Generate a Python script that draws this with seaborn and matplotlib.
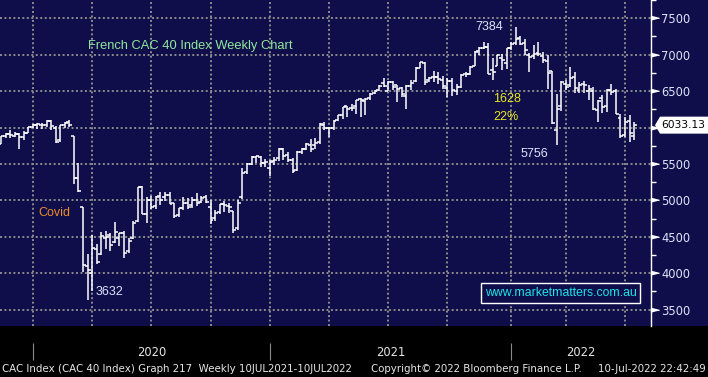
import numpy as np
import pandas as pd
import matplotlib
matplotlib.use("Agg")
import matplotlib.pyplot as plt
import matplotlib.transforms as mtransforms
from matplotlib.patches import Polygon, Rectangle
from matplotlib.ticker import MultipleLocator, FixedLocator, NullFormatter, FuncFormatter
from matplotlib import font_manager
import seaborn as sns

# weekly bars, week ending Friday
week_end = pd.date_range("2019-11-08", "2022-07-08", freq="W-FRI")

opens = [5780, 5885, 5905, 5890, 5905, 5870, 5930, 6010, 6040, 6030,
         6040, 6095, 5990, 5830, 6035, 6070, 5880, 5310, 4910, 4100,
         4000, 4330, 4260, 4480, 4520, 4430, 4480, 4550, 4300, 4480,
         4720, 5190, 4810, 5010, 4920, 5060, 5040, 5080, 4960, 4800,
         4900, 4960, 4940, 5000, 4980, 5050, 4910, 4760, 4840, 4950,
         4930, 4850, 4620, 5050, 5390, 5500, 5590, 5600, 5520, 5440,
         5540, 5580, 5700, 5620, 5560, 5420, 5670, 5710, 5760, 5760,
         5800, 6040, 6000, 5990, 6110, 6170, 6290, 6270, 6290, 6390,
         6370, 6400, 6480, 6510, 6610, 6500, 6620, 6580, 6540, 6430,
         6570, 6640, 6820, 6890, 6650, 6690, 6700, 6650, 6540, 6640,
         6500, 6560, 6730, 6730, 6850, 7050, 7090, 7110, 6790, 6850,
         6960, 6880, 7090, 7160, 7230, 7160, 7000, 6980, 7030, 6980,
         6920, 6770, 5960, 6300, 6600, 6580, 6690, 6520, 6600, 6500,
         6500, 6240, 6400, 6300, 6520, 6500, 6130, 5900, 6090, 5880]
highs = [5890, 5925, 5965, 5935, 5930, 5955, 6010, 6045, 6060, 6060,
         6100, 6105, 6025, 6040, 6075, 6110, 5890, 5515, 4915, 4260,
         4525, 4400, 4560, 4577, 4555, 4700, 4555, 4580, 4490, 4715,
         5190, 5200, 5040, 5060, 5060, 5120, 5110, 5110, 4965, 4900,
         5050, 5030, 5050, 5100, 5060, 5080, 5010, 4870, 4950, 4990,
         4960, 4860, 5000, 5445, 5515, 5605, 5610, 5605, 5570, 5550,
         5600, 5720, 5720, 5660, 5580, 5675, 5720, 5790, 5840, 5860,
         6060, 6075, 6010, 6100, 6170, 6285, 6300, 6330, 6385, 6400,
         6400, 6470, 6520, 6585, 6680, 6640, 6640, 6590, 6560, 6580,
         6655, 6835, 6905, 6895, 6700, 6770, 6760, 6710, 6680, 6680,
         6600, 6740, 6760, 6840, 7050, 7100, 7180, 7160, 6950, 7000,
         7010, 7090, 7180, 7384, 7260, 7210, 7030, 7130, 7180, 7040,
         6990, 6780, 6460, 6640, 6650, 6830, 6760, 6630, 6640, 6590,
         6560, 6380, 6450, 6530, 6595, 6530, 6180, 6140, 6170, 6080]
lows = [5775, 5855, 5860, 5870, 5700, 5830, 5925, 6000, 5980, 5985,
        6010, 5960, 5790, 5795, 6000, 6010, 5225, 5120, 4020, 3632,
        3755, 4130, 4250, 4330, 4300, 4420, 4380, 4210, 4280, 4470,
        4710, 4810, 4690, 4880, 4880, 4940, 4990, 4950, 4760, 4770,
        4870, 4880, 4900, 4920, 4960, 4970, 4670, 4720, 4820, 4840,
        4830, 4550, 4600, 5015, 5360, 5490, 5510, 5465, 5460, 5330,
        5490, 5535, 5560, 5530, 5370, 5410, 5640, 5690, 5660, 5700,
        5780, 5960, 5870, 5960, 6090, 6120, 6150, 6230, 6190, 6150,
        6170, 6375, 6460, 6500, 6560, 6500, 6510, 6350, 6420, 6260,
        6515, 6630, 6815, 6590, 6620, 6630, 6600, 6530, 6425, 6435,
        6445, 6540, 6690, 6720, 6840, 7000, 7080, 6730, 6650, 6850,
        6790, 6800, 7060, 7140, 7130, 7000, 6760, 6940, 6980, 6880,
        6530, 6050, 5756, 6230, 6520, 6560, 6480, 6470, 6480, 6380,
        6240, 6080, 6200, 6210, 6450, 6180, 5850, 5870, 5800, 5830]
closes = [5885, 5905, 5894, 5905, 5872, 5919, 6005, 6037, 6044, 6037,
          6095, 6024, 5806, 6030, 6069, 6029, 5310, 5130, 4118, 4049,
          4351, 4154, 4507, 4499, 4393, 4572, 4550, 4278, 4445, 4695,
          5180, 4816, 5001, 4910, 5049, 5007, 5069, 4956, 4784, 4889,
          4962, 4911, 5002, 4965, 5034, 4979, 4730, 4824, 4946, 4935,
          4910, 4594, 4960, 5380, 5495, 5598, 5609, 5507, 5528, 5522,
          5551, 5707, 5611, 5559, 5399, 5659, 5704, 5774, 5703, 5783,
          6046, 5997, 5989, 6095, 6169, 6280, 6258, 6269, 6385, 6385,
          6386, 6460, 6505, 6575, 6569, 6622, 6553, 6530, 6460, 6569,
          6613, 6817, 6896, 6627, 6682, 6690, 6664, 6570, 6638, 6518,
          6560, 6728, 6734, 6830, 7041, 7091, 7112, 6740, 6765, 6991,
          6927, 7086, 7153, 7220, 7143, 7069, 6966, 7012, 7011, 6930,
          6752, 6062, 6260, 6620, 6553, 6684, 6548, 6590, 6581, 6534,
          6258, 6362, 6285, 6516, 6486, 6187, 5882, 6073, 5931, 6033.13]

y_levels = [3500, 4000, 4500, 5000, 5500, 6000, 6500, 7000, 7500]
title = "French CAC 40 Index Weekly Chart"
footer_left = "CAC Index (CAC 40 Index) Graph 217  Weekly 10JUL2021-10JUL2022"
footer_mid = "Copyright\u00a9 2022 Bloomberg Finance L.P."
footer_right = "10-Jul-2022 22:42:49"

navy = "#0f0e4a"
grid_col = "#8c8c8c"
label_col = "#dce4fa"

sns.set_theme(style="dark", rc={"axes.facecolor": navy, "figure.facecolor": navy})
plt.rcParams["font.family"] = ["Liberation Sans", "DejaVu Sans"]

names = {f.name for f in font_manager.fontManager.ttflist}
if "Liberation Sans Narrow" in names:
    foot_font, foot_size = "Liberation Sans Narrow", 8.2
else:
    foot_font, foot_size = "DejaVu Sans", 7.4

x = np.arange(len(week_end))
df = pd.DataFrame({"x": x, "open": opens, "high": highs, "low": lows, "close": closes})

fig = plt.figure(figsize=(7.08, 3.77), dpi=100)
ax = fig.add_axes([0, 51 / 377, 651 / 708, 326 / 377])
fig.add_artist(Rectangle((0, 0), 1, 51 / 377, transform=fig.transFigure,
                         facecolor="black", edgecolor="none", zorder=-5))

# OHLC bars
ax.vlines(df["x"], df["low"], df["high"], colors="white", lw=1.1, zorder=3)
ax.hlines(df["open"], df["x"] - 0.65, df["x"], colors="white", lw=1.1, zorder=3)
ax.hlines(df["close"], df["x"], df["x"] + 0.65, colors="white", lw=1.1, zorder=3)

ymin, ymax = 3276, 7751
ax.set_xlim(-0.22, 142.7)
ax.set_ylim(ymin, ymax)

# quarter / year boundaries: last week before the period starts
q_starts = pd.date_range("2020-01-01", "2022-07-01", freq="QS")
q_idx = [int(np.searchsorted(week_end, q)) - 1 for q in q_starts]
y_starts = pd.date_range("2020-01-01", "2022-01-01", freq="YS")
y_idx = [int(np.searchsorted(week_end, q)) - 1 for q in y_starts]

last = closes[-1]
h = 8.5 * (ymax - ymin) / 326

ax.xaxis.set_major_locator(FixedLocator(q_idx))
ax.xaxis.set_major_formatter(NullFormatter())
ax.yaxis.set_major_locator(FixedLocator(y_levels))
# the last-price flag hides the level label it sits on
ax.yaxis.set_major_formatter(FuncFormatter(lambda v, p: "" if abs(v - last) < h * 1.3 else f"{v:.0f}"))
ax.yaxis.set_minor_locator(MultipleLocator(250))
ax.grid(True, which="major", color=grid_col, ls=(0, (1, 1.3)), lw=1.4)
ax.tick_params(axis="x", length=0)

ax.yaxis.tick_right()
ax.tick_params(axis="y", which="major", length=0, pad=7.5, labelsize=8.3,
               labelcolor=label_col)
ax.tick_params(axis="y", which="minor", length=3.5, width=1, color="white",
               direction="out", right=True, left=False)
for lab in ax.get_yticklabels():
    lab.set_fontfamily("DejaVu Sans")

for s in ["top", "left", "bottom"]:
    ax.spines[s].set_visible(False)
ax.spines["right"].set_color("white")
ax.spines["right"].set_linewidth(1)

# arrow tick marks on the price axis
yx = mtransforms.blended_transform_factory(ax.transAxes, ax.transData)
ax.plot(np.ones(len(y_levels)), y_levels, ls="none", color="white",
        marker=[(0, -1), (0, 1), (4, 0)], ms=11.5, transform=yx, clip_on=False)

# last price flag
flag = Polygon([(1 + 4 / 651, last), (1 + 9 / 651, last + h), (1 + 62 / 651, last + h),
                (1 + 62 / 651, last - h), (1 + 9 / 651, last - h)], closed=True,
               facecolor="white", edgecolor="none", transform=yx, clip_on=False, zorder=6)
ax.add_patch(flag)
ax.text(1 + 10 / 651, last, f"{last:.2f}", transform=yx, ha="left", va="center",
        fontsize=7.7, color="black", family="DejaVu Sans", clip_on=False, zorder=7)

# annotations
hi_i = int(np.argmax(highs))
lo_i = int(np.argmin(lows))
lo22_i = hi_i + int(np.argmin(lows[hi_i:]))
drop = highs[hi_i] - lows[lo22_i]
ax.annotate(f"{highs[hi_i]:.0f}", (hi_i, highs[hi_i]), xytext=(-9, 0),
            textcoords="offset points", ha="right", va="center", fontsize=9, color=label_col)
ax.annotate(f"{lows[lo_i]:.0f}", (lo_i, lows[lo_i]), xytext=(6, 6),
            textcoords="offset points", ha="left", va="center", fontsize=9, color=label_col)
ax.annotate(f"{lows[lo22_i]:.0f}", (lo22_i, lows[lo22_i]), xytext=(-6, -6),
            textcoords="offset points", ha="right", va="center", fontsize=9, color=label_col)
ax.text(493 / 651, 1 - 99 / 326, f"{drop:.0f}", transform=ax.transAxes,
        ha="left", va="center", fontsize=9, color="#e8e81e")
ax.text(493 / 651, 1 - 117 / 326, f"{drop / highs[hi_i] * 100:.0f}%", transform=ax.transAxes,
        ha="left", va="center", fontsize=9, color="#e8e81e")
ax.text(88 / 651, 1 - 46 / 326, title, transform=ax.transAxes,
        ha="left", va="center", fontsize=9.3, color="#8fe89c")
ax.text(38 / 651, 1 - 213 / 326, "Covid", transform=ax.transAxes,
        ha="left", va="center", fontsize=9, color="#f08c28")
ax.text(560.5 / 651, 1 - 293 / 326, "www.marketmatters.com.au", transform=ax.transAxes,
        ha="center", va="center", fontsize=8.8, color="#19e6e6", zorder=5,
        bbox=dict(boxstyle="square,pad=0.32", facecolor=navy, edgecolor="white", lw=1))

# year strip
xy = mtransforms.blended_transform_factory(ax.transData, ax.transAxes)
ax.vlines(y_idx, -0.104, -0.052, colors="#8a8a8a", lw=0.8, transform=xy, clip_on=False)
bounds = y_idx + [ax.get_xlim()[1]]
for k, yr in enumerate(y_starts.year):
    ax.text((bounds[k] + bounds[k + 1]) / 2, -0.082, str(yr), transform=xy,
            ha="center", va="center", fontsize=8.3, color="#e6e6e6",
            family=foot_font, clip_on=False)

fy = 1 - 369 / 377
fig.text(2 / 708, fy, footer_left, ha="left", va="center", fontsize=foot_size,
         color="#e6e6e6", family=foot_font)
fig.text(371 / 708, fy, footer_mid, ha="left", va="center", fontsize=foot_size,
         color="#e6e6e6", family=foot_font)
fig.text(706 / 708, fy, footer_right, ha="right", va="center", fontsize=foot_size,
         color="#e6e6e6", family=foot_font)

fig.savefig("out.png", dpi=100, facecolor=navy)
